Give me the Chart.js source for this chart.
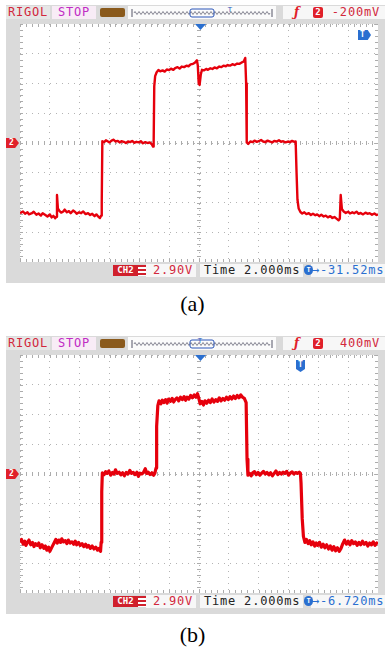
<!DOCTYPE html>
<html>
<head>
<meta charset="utf-8">
<script src="https://cdn.jsdelivr.net/npm/chart.js@4/dist/chart.umd.min.js"></script>
<style>
  body { margin: 0; background: #fff; width: 385px; height: 652px; position: relative; overflow: hidden; font-family: "DejaVu Sans Mono", monospace; }
  .scope { position: absolute; left: 6px; width: 379px; height: 278px; background: #dadada; }
  .scope > * { position: absolute; }
  .txt { font-size: 12px; line-height: 13px; letter-spacing: 0.8px; white-space: nowrap; }
  .caption { position: absolute; width: 385px; left: 0; text-align: center; font-family: "Liberation Serif", serif; font-size: 22px; }
</style>
</head>
<body>
<script>
// --- Datos de las dos capturas (tiempo en divisiones, tensión en divisiones) ---
const traceA = [
  [0,-2.36],[0.1,-2.30],[0.17,-2.38],[0.25,-2.33],[0.3,-2.40],[0.4,-2.36],[0.46,-2.31],[0.55,-2.41],[0.62,-2.37],[0.7,-2.44],
  [0.76,-2.36],[0.85,-2.42],[0.92,-2.47],[1.0,-2.40],[1.06,-2.50],[1.12,-2.45],[1.18,-2.53],[1.22,-2.48],[1.24,-1.75],[1.27,-2.20],
  [1.32,-2.28],[1.38,-2.34],[1.45,-2.30],[1.5,-2.24],[1.57,-2.33],[1.64,-2.29],[1.7,-2.36],[1.78,-2.27],[1.85,-2.32],[1.9,-2.38],
  [1.98,-2.33],[2.05,-2.36],[2.12,-2.30],[2.2,-2.39],[2.28,-2.36],[2.35,-2.42],[2.42,-2.38],[2.5,-2.46],[2.56,-2.40],[2.63,-2.48],
  [2.68,-2.52],[2.72,-2.44],[2.74,-2.0],[2.76,0.06],
  [2.82,0.03],[2.88,0.09],[2.95,0.05],[3.0,0.02],[3.07,0.08],[3.14,0.11],[3.2,0.05],[3.28,0.07],[3.35,0.02],[3.4,0.06],
  [3.48,0.04],[3.55,0.0],[3.62,0.05],[3.7,0.03],[3.76,0.07],[3.84,0.01],[3.9,0.04],[3.98,0.02],[4.05,0.06],[4.12,-0.01],
  [4.2,0.03],[4.28,0.0],[4.35,0.02],[4.42,-0.05],[4.46,-0.12],[4.48,0.0],
  [4.50,1.9],[4.53,2.25],[4.58,2.38],[4.64,2.45],[4.7,2.41],[4.78,2.44],[4.85,2.40],[4.92,2.47],[5.0,2.45],[5.06,2.50],
  [5.14,2.46],[5.2,2.52],[5.28,2.55],[5.35,2.50],[5.42,2.57],[5.5,2.55],[5.58,2.60],[5.65,2.58],[5.72,2.64],[5.8,2.66],
  [5.86,2.70],[5.93,2.78],[5.96,2.6],[5.99,2.0],[6.02,1.95],[6.06,2.30],[6.10,2.46],[6.16,2.44],[6.24,2.49],[6.3,2.46],
  [6.38,2.51],[6.45,2.49],[6.52,2.54],[6.6,2.51],[6.68,2.57],[6.75,2.55],[6.82,2.60],[6.9,2.58],[6.96,2.62],[7.04,2.60],
  [7.12,2.65],[7.2,2.62],[7.28,2.67],[7.35,2.66],[7.42,2.70],[7.5,2.74],[7.55,2.86],
  [7.58,2.0],[7.60,0.02],[7.65,-0.03],[7.72,0.05],[7.8,0.03],[7.86,0.08],[7.94,0.04],[8.0,0.06],[8.08,0.10],[8.15,0.05],
  [8.22,0.03],[8.3,0.08],[8.38,0.05],[8.45,0.02],[8.52,0.07],[8.6,0.05],[8.68,0.09],[8.75,0.04],[8.82,0.06],[8.9,0.02],
  [8.98,0.05],[9.05,0.03],[9.12,0.07],[9.2,0.04],[9.24,0.05],
  [9.27,-1.0],[9.30,-1.9],[9.34,-2.2],[9.4,-2.32],[9.46,-2.37],[9.53,-2.33],[9.6,-2.39],[9.68,-2.36],[9.75,-2.42],[9.82,-2.38],
  [9.9,-2.43],[9.96,-2.40],[10.04,-2.46],[10.1,-2.41],[10.18,-2.47],[10.25,-2.44],[10.32,-2.50],[10.4,-2.46],[10.47,-2.52],[10.54,-2.49],
  [10.62,-2.55],[10.68,-2.60],[10.72,-2.55],[10.75,-1.75],[10.79,-2.22],[10.85,-2.30],[10.92,-2.35],[11.0,-2.31],[11.06,-2.37],[11.14,-2.33],
  [11.2,-2.36],[11.28,-2.31],[11.35,-2.38],[11.42,-2.35],[11.5,-2.40],[11.58,-2.34],[11.65,-2.38],[11.72,-2.36],[11.8,-2.41],[11.88,-2.37],
  [11.95,-2.42],[12.0,-2.40]
];

const traceB = [
  [0,-2.30],[0.05,-2.20],[0.11,-2.36],[0.16,-2.26],[0.2,-2.40],[0.26,-2.28],[0.3,-2.22],[0.36,-2.38],[0.42,-2.30],[0.47,-2.44],
  [0.52,-2.34],[0.58,-2.40],[0.63,-2.32],[0.68,-2.48],[0.74,-2.38],[0.8,-2.50],[0.85,-2.42],[0.9,-2.56],[0.96,-2.46],[1.0,-2.60],
  [1.05,-2.50],[1.1,-2.40],[1.15,-2.30],[1.2,-2.20],[1.25,-2.32],[1.3,-2.22],[1.36,-2.30],[1.4,-2.18],[1.46,-2.28],[1.52,-2.24],
  [1.57,-2.34],[1.62,-2.22],[1.68,-2.32],[1.74,-2.28],[1.8,-2.36],[1.85,-2.26],[1.9,-2.38],[1.96,-2.30],[2.02,-2.40],[2.08,-2.34],
  [2.14,-2.44],[2.2,-2.36],[2.25,-2.46],[2.3,-2.40],[2.36,-2.50],[2.42,-2.42],[2.48,-2.52],[2.54,-2.46],[2.6,-2.56],[2.65,-2.50],
  [2.70,-2.60],[2.72,-2.3],[2.74,-0.6],[2.76,0.04],
  [2.82,-0.02],[2.87,0.08],[2.92,0.02],[2.98,0.10],[3.04,-0.04],[3.1,0.05],[3.15,0.0],[3.2,0.14],[3.26,0.02],[3.32,0.06],
  [3.38,-0.03],[3.44,0.04],[3.5,-0.06],[3.56,0.05],[3.62,0.0],[3.68,0.12],[3.74,0.02],[3.8,0.05],[3.86,-0.02],[3.92,0.06],
  [3.97,-0.08],[4.02,0.03],[4.08,0.0],[4.14,0.05],[4.2,0.18],[4.25,0.02],[4.3,0.06],[4.36,-0.02],[4.42,0.04],[4.48,-0.04],
  [4.52,0.03],[4.56,0.2],[4.58,1.6],[4.62,2.30],
  [4.66,2.46],[4.72,2.36],[4.77,2.48],[4.82,2.40],[4.88,2.50],[4.93,2.38],[4.98,2.52],[5.04,2.44],[5.1,2.54],[5.15,2.42],
  [5.2,2.50],[5.26,2.56],[5.32,2.46],[5.38,2.58],[5.44,2.50],[5.5,2.60],[5.55,2.48],[5.6,2.58],[5.66,2.52],[5.72,2.64],
  [5.78,2.56],[5.84,2.66],[5.9,2.58],[5.95,2.70],[6.0,2.52],[6.04,2.36],[6.1,2.44],[6.15,2.32],[6.2,2.46],[6.26,2.38],
  [6.32,2.48],[6.38,2.40],[6.44,2.52],[6.5,2.42],[6.56,2.50],[6.62,2.44],[6.68,2.56],[6.74,2.46],[6.8,2.54],[6.86,2.48],
  [6.92,2.58],[6.98,2.50],[7.04,2.60],[7.1,2.52],[7.16,2.62],[7.22,2.54],[7.28,2.64],[7.34,2.56],[7.4,2.66],[7.46,2.58],
  [7.52,2.54],[7.58,2.4],[7.61,0.5],[7.64,-0.04],
  [7.7,0.02],[7.75,-0.06],[7.8,0.04],[7.86,0.08],[7.92,-0.02],[7.98,0.05],[8.04,-0.04],[8.1,0.03],[8.16,0.09],[8.22,0.0],
  [8.28,0.05],[8.34,-0.03],[8.4,0.04],[8.46,-0.06],[8.52,0.02],[8.58,0.10],[8.64,-0.02],[8.7,0.05],[8.76,0.0],[8.82,0.06],
  [8.88,0.02],[8.94,0.09],[9.0,-0.04],[9.06,0.03],[9.12,0.07],[9.18,0.0],[9.24,0.05],[9.3,0.02],[9.36,0.06],[9.4,0.02],
  [9.42,-0.3],[9.46,-1.5],[9.50,-2.1],[9.55,-2.30],
  [9.6,-2.20],[9.66,-2.34],[9.71,-2.24],[9.76,-2.38],[9.82,-2.28],[9.88,-2.42],[9.93,-2.32],[9.98,-2.40],[10.04,-2.30],[10.1,-2.46],
  [10.16,-2.36],[10.22,-2.48],[10.28,-2.38],[10.34,-2.52],[10.4,-2.42],[10.46,-2.56],[10.52,-2.44],[10.58,-2.58],[10.64,-2.48],[10.7,-2.60],
  [10.76,-2.50],[10.82,-2.34],[10.88,-2.22],[10.94,-2.36],[11.0,-2.26],[11.06,-2.38],[11.12,-2.24],[11.18,-2.34],[11.24,-2.28],[11.3,-2.40],
  [11.36,-2.30],[11.42,-2.38],[11.48,-2.26],[11.54,-2.36],[11.6,-2.30],[11.66,-2.42],[11.72,-2.32],[11.78,-2.38],[11.84,-2.28],[11.9,-2.40],
  [11.96,-2.32],[12.0,-2.36]
];

const trigLevels = ['-200mV', '400mV'];
const trigOffsets = ['-31.52ms', '-6.720ms'];
const chScale = '2.90V';
const timeBase = 'Time 2.000ms';
const captions = ['(a)', '(b)'];

// --- Marcas pequeñas sobre los ejes centrales y los bordes ---
const scopeTicks = {
  id: 'scopeTicks',
  beforeDatasetsDraw(chart) {
    const { ctx, chartArea: a, scales: { x, y } } = chart;
    const cx = x.getPixelForValue(6), cy = y.getPixelForValue(0);
    ctx.save();
    ctx.strokeStyle = '#acacac';
    ctx.lineWidth = 1;
    ctx.beginPath();
    for (let i = 0; i <= 60; i++) {
      const px = Math.round(x.getPixelForValue(i / 5)) + 0.5;
      ctx.moveTo(px, cy - 2); ctx.lineTo(px, cy + 2);
      ctx.moveTo(px, a.top); ctx.lineTo(px, a.top + 3);
      ctx.moveTo(px, a.bottom); ctx.lineTo(px, a.bottom - 3);
    }
    for (let j = 0; j <= 40; j++) {
      const py = Math.round(y.getPixelForValue(-4 + j / 5)) + 0.5;
      ctx.moveTo(cx - 2, py); ctx.lineTo(cx + 2, py);
      ctx.moveTo(a.left, py); ctx.lineTo(a.left + 3, py);
      ctx.moveTo(a.right, py); ctx.lineTo(a.right - 3, py);
    }
    ctx.stroke();
    ctx.restore();
  }
};

function el(parent, css, html) {
  const d = document.createElement('div');
  d.style.cssText = css;
  if (html !== undefined) d.innerHTML = html;
  parent.appendChild(d);
  return d;
}

function memoryBar(tx) {
  let path = 'M6 7';
  for (let i = 0; i < 34; i++) {
    const x0 = 6 + i * 4;
    path += ` Q${x0 + 1} 4 ${x0 + 2} 7 Q${x0 + 3} 10 ${x0 + 4} 7`;
  }
  return `<svg width="148" height="13" style="display:block">
    <rect width="148" height="13" fill="#fbfbfb"/>
    <path d="M4 3 V11 M144 3 V11" stroke="#556" stroke-width="1"/>
    <path d="${path}" fill="none" stroke="#667" stroke-width="0.8"/>
    <rect x="62" y="3" width="24" height="8" rx="2" fill="none" stroke="#2a55b8" stroke-width="1"/>
    <text x="${tx}" y="6" font-size="7" fill="#2a55b8" text-anchor="middle" font-family="DejaVu Sans">T</text>
  </svg>`;
}

function buildScope(idx, top, trace, width, badge, memT) {
  const p = el(document.body, `top:${top}px`);
  p.className = 'scope';

  // cabecera
  el(p, 'left:0;top:1px;width:44px;height:13px;background:#e6e6e6');
  el(p, 'left:2px;top:1px;color:#d2283c', 'RIGOL').className = 'txt';
  el(p, 'left:46px;top:1px;width:44px;height:13px;background:#f8ecf6');
  el(p, 'left:52px;top:1px;color:#c02cc4', 'STOP').className = 'txt';
  el(p, 'left:94px;top:3px;width:25px;height:9px;background:#8a5a1c;border-radius:2px');
  el(p, 'left:122px;top:1px;width:148px;height:13px', memoryBar(memT));
  el(p, 'left:277px;top:1px;width:102px;height:13px;background:#f7f7f7');
  el(p, 'left:288px;top:0px;color:#e0202a;font-weight:bold;font-style:italic;font-family:"DejaVu Serif";font-size:12px', 'ƒ');
  el(p, 'left:307px;top:2px;width:10px;height:11px;background:#e0202a;border-radius:2px;color:#fff;font-size:9px;line-height:11px;text-align:center;font-weight:bold', '2');
  el(p, 'right:5px;top:1px;color:#d2283c', trigLevels[idx]).className = 'txt';

  // zona de la gráfica
  const holder = el(p, 'left:14px;top:19px;width:358px;height:238px;background:#fff');
  const cv = document.createElement('canvas');
  cv.width = 358; cv.height = 238;
  holder.appendChild(cv);

  // marcadores
  el(p, 'left:0;top:133px;width:13px;height:10px;background:#e0202a;clip-path:polygon(0 0,70% 0,100% 50%,70% 100%,0 100%);color:#fff;font-size:8px;line-height:10px;text-indent:3px;font-weight:bold', '2');
  el(p, 'left:189px;top:19px;width:11px;height:6px;background:#2a6fd0;clip-path:polygon(0 0,100% 0,50% 100%)');
  if (badge.dir === 'right') {
    el(p, `left:${badge.x}px;top:${badge.y}px;width:13px;height:10px;background:#2a6fd0;clip-path:polygon(0 0,75% 0,100% 50%,75% 100%,0 100%);color:#fff;font-size:8px;line-height:10px;text-indent:2px;font-weight:bold`, 'T');
  } else {
    el(p, `left:${badge.x}px;top:${badge.y}px;width:9px;height:12px;background:#2a6fd0;clip-path:polygon(0 0,100% 0,100% 75%,50% 100%,0 75%);color:#fff;font-size:8px;line-height:10px;text-align:center;font-weight:bold`, 'T');
  }

  // barra inferior
  el(p, 'left:107px;top:260px;width:25px;height:11px;background:#d0202c;color:#fff;font-size:9px;line-height:11px;text-align:center;font-weight:bold', 'CH2');
  el(p, 'left:132px;top:260px;width:8px;height:11px;background:repeating-linear-gradient(#d0202c 0 2px,#fff 2px 4px)');
  el(p, 'left:140px;top:259px;width:50px;height:13px;background:#f7f7f7');
  el(p, 'left:147px;top:259px;color:#d2283c', chScale).className = 'txt';
  el(p, 'left:194px;top:259px;width:103px;height:13px;background:#f7f7f7');
  el(p, 'left:198px;top:259px;color:#222', timeBase).className = 'txt';
  el(p, 'left:305px;top:259px;width:74px;height:13px;background:#f7f7f7');
  el(p, 'left:298px;top:260px;width:9px;height:10px;border-radius:5px;background:#2a6fd0;color:#fff;font-size:7px;line-height:10px;text-align:center;font-weight:bold', 'T');
  el(p, 'left:306px;top:259px;color:#2a6fd0', '&#8594;' + trigOffsets[idx]).className = 'txt';

  el(document.body, `top:${top + 286}px`, captions[idx]).className = 'caption';

  new Chart(cv, {
    type: 'line',
    data: {
      datasets: [{
        data: trace.map(p => ({ x: p[0], y: p[1] })),
        borderColor: '#e6000c',
        borderWidth: width,
        borderJoinStyle: 'round',
        pointRadius: 0,
        tension: 0,
        fill: false
      }]
    },
    options: {
      responsive: false,
      animation: false,
      events: [],
      layout: { padding: 0 },
      plugins: { legend: { display: false }, tooltip: { enabled: false } },
      scales: {
        x: {
          type: 'linear', min: 0, max: 12,
          ticks: { display: false, stepSize: 1 },
          grid: { color: '#b4b4b4', drawTicks: false, lineWidth: 1 },
          border: { display: false, dash: [1, 5] }
        },
        y: {
          type: 'linear', min: -4, max: 4,
          ticks: { display: false, stepSize: 1 },
          grid: { color: '#b4b4b4', drawTicks: false, lineWidth: 1 },
          border: { display: false, dash: [1, 5] }
        }
      }
    },
    plugins: [scopeTicks]
  });
}

buildScope(0, 5, traceA, 2.4, { dir: 'right', x: 352, y: 25 }, 102);
buildScope(1, 336, traceB, 3.2, { dir: 'down', x: 290, y: 24 }, 72);
</script>
</body>
</html>
